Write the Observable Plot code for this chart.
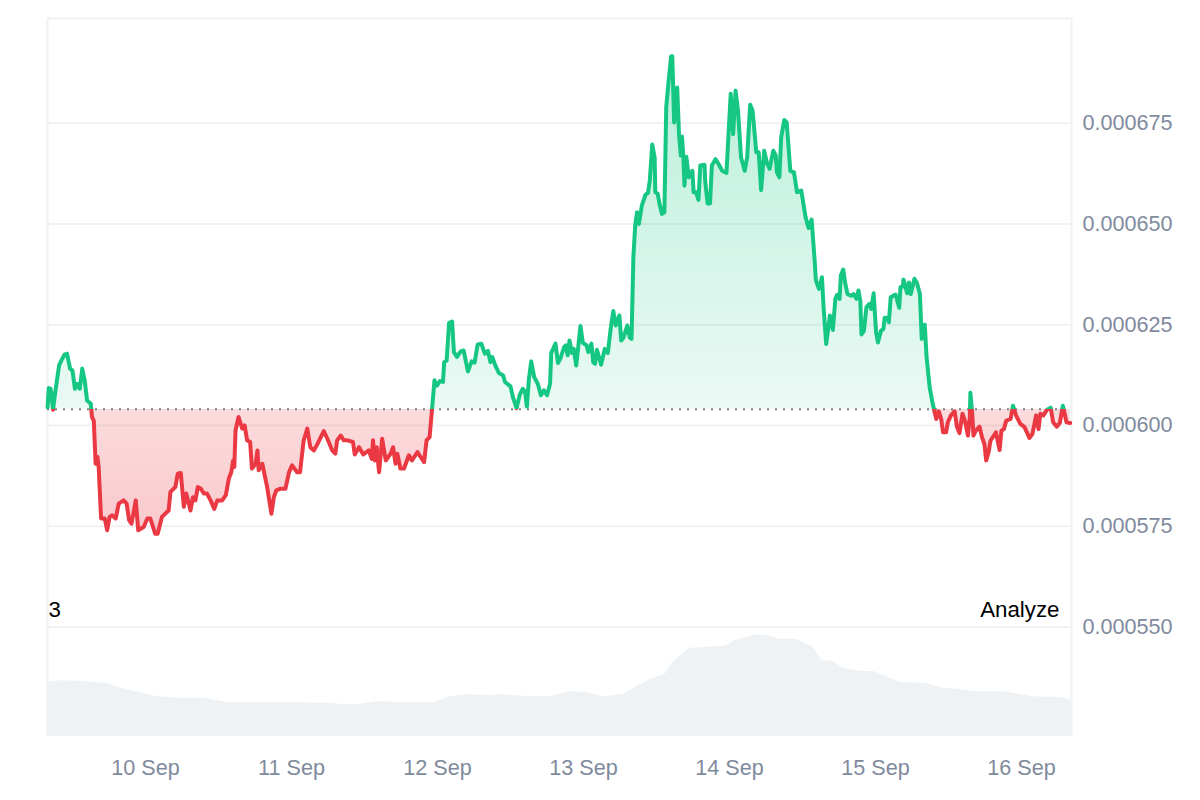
<!DOCTYPE html>
<html>
<head>
<meta charset="utf-8">
<script src="https://cdn.jsdelivr.net/npm/d3@7"></script>
<script src="https://cdn.jsdelivr.net/npm/@observablehq/plot@0.6"></script>
<style>
  html, body { margin: 0; padding: 0; background: #fff; }
  svg { display: block; }
</style>
</head>
<body>
<div id="chart"></div>
<script>
// Hours since 9 Sep 00:00 UTC
const priceHours = [
7.9,8.1,8.4,8.8,9.2,9.8,10.3,10.7,11.1,11.6,12.0,12.4,12.8,13.2,13.6,14.0,14.4,15.0,15.2,15.5,15.8,16.1,16.3,16.7,17.3,17.7,18.1,18.5,19.1,19.6,20.4,20.9,21.3,21.7,22.4,22.8,23.7,24.3,24.8,25.6,26.0,26.7,27.8,28.1,28.9,29.3,29.8,30.3,30.7,31.4,31.8,32.2,32.6,33.1,33.6,34.1,34.7,35.3,35.8,36.6,37.2,37.7,38.1,38.4,38.6,38.8,39.3,39.9,40.3,40.7,41.2,41.5,42.1,42.4,42.6,43.2,44.0,44.7,45.1,45.5,46.2,47.0,47.6,48.1,48.9,49.4,50.0,50.6,51.1,51.7,52.3,53.3,53.9,54.7,55.2,55.5,56.1,56.6,57.2,58.1,58.4,59.1,59.8,60.7,61.2,61.4,61.7,62.0,62.4,62.9,63.5,64.3,64.7,65.1,65.4,65.9,66.5,67.3,67.8,68.7,69.8,70.2,70.7,71.1,
71.5,71.9,72.4,72.9,73.1,73.5,73.9,74.4,74.7,75.2,75.8,76.3,77.0,77.6,78.1,78.6,79.2,79.8,80.3,80.7,81.0,81.5,82.1,82.8,83.1,84.0,84.4,85.0,85.5,86.0,86.4,86.7,87.0,87.4,87.9,88.5,89.0,89.5,90.0,90.5,90.7,91.4,91.8,92.2,92.8,93.1,93.4,93.7,94.1,94.4,94.8,95.1,95.5,95.9,96.5,96.8,97.3,97.6,97.9,98.2,98.9,99.5,100.0,100.5,100.9,101.3,101.9,102.2,102.6,103.2,103.6,103.9,104.2,104.5,104.8,105.1,105.6,106.2,106.6,106.9,
107.3,107.7,107.8,108.2,108.5,108.9,109.3,109.6,110.0,110.4,110.6,110.9,111.4,111.7,112.0,112.2,112.4,112.6,112.9,113.3,113.9,114.1,114.5,114.9,115.2,115.9,116.0,116.4,116.8,117.1,117.7,118.2,118.8,119.5,120.2,120.6,121.0,121.4,121.9,122.5,122.9,123.4,123.8,124.4,124.8,125.2,125.7,126.2,126.6,127.2,127.6,127.8,128.2,128.5,129.0,129.4,130.0,130.6,131.1,131.8,132.5,133.0,133.5,133.7,134.0,134.2,
134.7,135.2,135.5,135.9,136.5,137.0,137.4,137.7,138.1,138.3,138.7,139.0,139.4,140.0,140.4,140.9,141.2,141.5,141.7,142.1,142.5,143.0,143.3,143.7,144.1,144.4,144.9,145.3,145.5,146.0,146.2,146.5,147.3,147.9,148.1,148.5,148.6,149.2,149.5,149.8,150.4,150.8,151.3,151.6,152.1,152.4,152.9,153.3,153.6,154.0,154.4,154.8,155.1,155.6,155.9,156.4,157.0,157.4,157.8,158.3,158.7,159.2,159.5,159.6,159.9,160.1,160.5,161.1,161.5,161.9,162.2,162.6,162.9,163.8,164.4,164.7,165.1,165.5,166.2,166.6,167.1,167.8,168.5,169.3,169.8,170.4,170.8,171.1,171.6,172.2,172.8,173.2,173.8,174.3,174.8,175.4,176.0
];
// Price in millionths
const priceMicro = [
604.5,609.3,609.1,603.9,608.7,614.9,616.5,617.6,617.8,614.1,613.6,609.1,610.3,609.1,614.1,611.2,606.2,605.4,602.1,601.2,590.5,592.2,589.7,576.9,576.9,574,577.3,577.7,576.9,580.6,581.4,580.6,576.5,575.6,581.4,574,574.8,576.9,576.9,573.1,573.1,577.3,578.9,583.5,584.7,588,588.2,579.8,583.1,578.9,582.2,581.4,584.7,584.3,583.1,583.1,581.4,579.3,581.4,581.4,582.7,586.8,588.4,591.3,589.7,598.8,602.1,599.2,600,596.3,595.9,589.3,590.5,593.8,588.9,590.5,584.7,578.1,582.2,583.9,584.3,584.3,588.4,590.1,588.4,588.4,596.3,599.2,594.6,593.8,595.5,598.6,596.7,593.8,593,596.3,597.5,596.3,596.3,595.9,592.8,594.6,592.8,593.8,591.7,596.3,591.3,594.6,588.4,596.7,591.3,593,594.6,590.5,593,589.3,589.3,592.6,591.3,593.4,590.9,596.3,597.1,604,
611.2,609.9,611,610.8,615.7,616.1,625.4,625.8,618.2,617,618.4,618.6,613.4,615.9,615.6,620.1,620.3,617.8,618.5,615.7,617,614.9,613,612.4,610.8,609.7,607,604.3,607.5,609.1,608.3,604.7,611.2,615.9,612,610.3,607.5,608.7,607.5,610.3,618,620.3,615.5,616.6,619.4,619.9,617.4,621.1,618,619,614.9,619,624.7,620.5,619.9,618.2,620.3,615.7,615.3,618.8,615.1,619,618,624.4,628.4,624.8,627.3,621.1,621.9,624.8,621.8,621.5,641.8,649.6,652.9,650,654.6,657.3,657.7,660.8,
669.7,666.5,657.9,657.5,655,652.5,652.9,679,685.6,691.6,691.6,675.2,683.9,672.3,667,671.7,667,659.5,666.7,661.6,663.2,657.9,657.9,656,664.5,664.7,660.8,655.1,655.1,664.5,666.1,664.9,663.2,662.7,682.3,672.3,683.1,678.1,666.5,663.2,666.5,679.6,678.1,667.8,667.8,658.4,668.2,664.9,663.7,668.2,667,662.8,661.6,671.5,675.8,675.2,663.2,662.8,657.9,658.3,651.7,649,651.1,647,640.9,636,
633.9,636.8,628.5,620.2,627.3,623.7,631.4,632.4,631.4,637.2,638.7,635.5,632.6,632.2,632.6,631.4,633.5,631,622.6,623.5,629.3,630.2,628.9,632.8,623.1,620.6,623.5,623.9,626.7,626.7,625.6,631.8,632.5,629.2,634.3,634.5,636.2,632.8,635.5,632.6,636.4,635.4,632.6,621.5,625,616.9,609.5,606.2,604.1,601.6,603.5,601.6,598.3,598.3,600.8,602.5,603.5,599.6,598.1,602.9,601.2,597.5,602,608.1,602.9,597.5,598.7,599.7,597.1,595.4,591.3,593.4,596.2,598.3,593.9,598.7,599.1,601.2,601.6,604.9,602.5,600.4,599.6,596.9,597.9,602.5,599.1,602.9,602.5,603.9,604.4,600.8,599.7,600.6,604.9,600.8,600.6
];
const volumeHours = [7.8,9.8,14.4,17.7,19.9,22.6,25.9,29.8,33.6,37.4,44.6,53.9,57.2,58.8,62.1,66.5,71.4,73.9,76.9,80.7,82.4,85.7,90.6,94.1,96.5,99.4,102.6,104.7,107.0,109.4,110.6,113.5,119.4,120.8,124.4,126.4,128.2,131.1,133.7,135.2,137,138.7,141.7,143.7,148.1,152.2,155.2,157.5,160.5,165.2,169.8,174.5,176.3];
const volumeUnits = [54,55.7,55,53,48.3,44.7,39.7,38.3,38.3,34,34,33.3,31.7,31.7,35,33.7,33.7,39.7,41.7,41,41.7,40.3,40,45,43.7,39.7,42.3,49.7,57.3,62.3,74,88.3,90.3,95.7,101.7,100.7,97.3,97.3,89,76.3,75,68.3,65,65,54,53.3,48,47.3,44.7,44.7,39.7,39,35.7];
const priceTicks = [0.00055,0.000575,0.0006,0.000625,0.00065,0.000675];
const dayTicks = ["2024-09-10","2024-09-11","2024-09-12","2024-09-13","2024-09-14","2024-09-15","2024-09-16"];
const baselinePrice = 0.00060405;
const leftLabel = "3";
const rightLabel = "Analyze";

const startMs = Date.UTC(2024, 8, 9);
const toDate = h => new Date(startMs + h * 3600e3);
const xDomain = [toDate(7.89), toDate(176.22)];
const yDomain = [0.0005228, 0.000701];

const green = "#16c784", red = "#ea3943", greyText = "#808a9d", gridColor = "#f0f1f3";

const priceData = priceHours.map((h, i) => ({t: toDate(h), p: priceMicro[i] / 1e6}));
// volume shares the panel: its own zero sits on the panel floor
const volToY = d3.scaleLinear([0, 1], [yDomain[0], yDomain[0] + (yDomain[1] - yDomain[0]) / 718]);
const volData = volumeHours.map((h, i) => ({t: toDate(h), v: volToY(volumeUnits[i])}));

const chart = Plot.plot({
  width: 1200, height: 800,
  marginTop: 18, marginBottom: 64, marginLeft: 47, marginRight: 129,
  style: {fontFamily: "'Liberation Sans', Arial, sans-serif", background: "#fff", overflow: "visible"},
  x: {type: "utc", domain: xDomain},
  y: {domain: yDomain},
  marks: [
    Plot.ruleY(priceTicks, {stroke: gridColor, strokeWidth: 2}),
    Plot.ruleY([yDomain[1]], {stroke: gridColor, strokeWidth: 2}),
    Plot.ruleX(xDomain, {stroke: gridColor, strokeWidth: 2}),
    Plot.areaY(volData, {x: "t", y1: yDomain[0], y2: "v", fill: "#eff2f5"}),
    Plot.areaY(priceData, {x: "t", y1: baselinePrice, y2: "p", fill: "url(#fillGrad)"}),
    Plot.ruleY([baselinePrice], {stroke: "#808080", strokeWidth: 2, strokeDasharray: "2,6"}),
    Plot.lineY(priceData, {x: "t", y: "p", stroke: "url(#lineGrad)", strokeWidth: 4, strokeLinejoin: "round", strokeLinecap: "round"}),
    Plot.axisY(priceTicks, {anchor: "right", tickSize: 0, tickPadding: 11, label: null, fontSize: 21.6, color: greyText, tickFormat: d => d.toFixed(6)}),
    Plot.axisX(dayTicks.map(d => new Date(d)), {anchor: "bottom", tickSize: 0, tickPadding: 23, label: null, fontSize: 21.6, color: greyText, tickFormat: d3.utcFormat("%-d %b")}),
    Plot.text([leftLabel], {frameAnchor: "top-left", dx: 1, dy: 583, fontSize: 22.3, fill: "#000", textAnchor: "start", lineAnchor: "top"}),
    Plot.text([rightLabel], {frameAnchor: "top-right", dx: -12, dy: 583, fontSize: 22.3, fill: "#000", textAnchor: "end", lineAnchor: "top"})
  ]
});

const yScale = chart.scale("y");
const yTop = yScale.apply(yDomain[1]), yBottom = yScale.apply(yDomain[0]), yBase = yScale.apply(baselinePrice);
const off = (yBase - yTop) / (yBottom - yTop);
const defs = d3.select(chart).append("defs");
const grad = (id, stops) => {
  const g = defs.append("linearGradient").attr("id", id)
    .attr("gradientUnits", "userSpaceOnUse")
    .attr("x1", 0).attr("x2", 0).attr("y1", yTop).attr("y2", yBottom);
  for (const [o, c, a] of stops) g.append("stop").attr("offset", o).attr("stop-color", c).attr("stop-opacity", a);
};
grad("lineGrad", [[0, green, 1], [off, green, 1], [off, red, 1], [1, red, 1]]);
grad("fillGrad", [[0, green, 0.32], [off, green, 0.09], [off, red, 0.18], [1, red, 0.42]]);

document.getElementById("chart").append(chart);
</script>
</body>
</html>
